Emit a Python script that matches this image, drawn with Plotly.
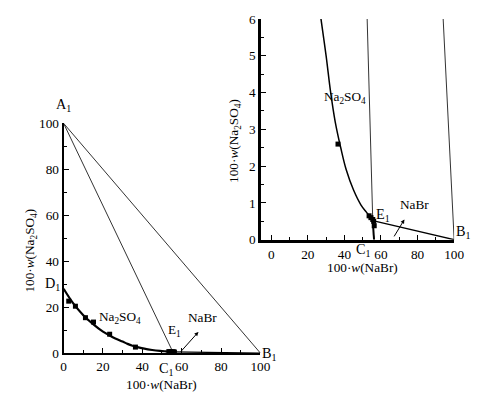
import plotly.graph_objects as go

# ---------------- data ----------------
# solubility curve D1 -> E1 (Na2SO4 crystallization field boundary)
curve_x = [0, 5, 10, 15, 20, 25, 27.2, 30, 32.5, 35, 38, 41, 45, 49, 52, 54, 55.5]
curve_y = [28, 21.5, 16.5, 12.6, 9.3, 6.9, 6.0, 5.0, 4.0, 3.2, 2.5, 1.9, 1.35, 0.95, 0.75, 0.63, 0.55]
# experimental points
exp_x = [2.6, 6.0, 11.1, 15.2, 23.4, 36.5, 53.5, 54.5, 55.5, 56.0, 56.3]
exp_y = [22.6, 20.4, 15.4, 13.5, 8.2, 2.6, 0.65, 0.6, 0.55, 0.5, 0.38]
# invariant / pure-salt points
A1 = (0, 100)
B1 = (100, 0)
E1 = (55.5, 0.52)
C1 = (56.2, 0)
x_ticks = [0, 20, 40, 60, 80, 100]
y_ticks_left = [0, 20, 40, 60, 80, 100]
y_ticks_right = [0, 1, 2, 3, 4, 5, 6]

FONT = "Liberation Serif, Times New Roman, serif"
RW, RH = 477, 396            # target picture size
W, H = 487, 405              # page size that is captured into the picture
K = W / RW                   # size factor
fig = go.Figure()

def fx(px):
    return px / RW

def fy(py):
    return 1 - ((py - 7) / 0.96) / H

def add_diagram(xa, ya, curve_w, line_w):
    fig.add_trace(go.Scatter(x=[A1[0], B1[0]], y=[A1[1], B1[1]], mode="lines",
                             line=dict(color="#333", width=line_w), xaxis=xa, yaxis=ya, showlegend=False))
    fig.add_trace(go.Scatter(x=[A1[0], E1[0]], y=[A1[1], E1[1]], mode="lines",
                             line=dict(color="#333", width=line_w), xaxis=xa, yaxis=ya, showlegend=False))
    fig.add_trace(go.Scatter(x=[E1[0], B1[0]], y=[E1[1], B1[1]], mode="lines",
                             line=dict(color="black", width=1.3), xaxis=xa, yaxis=ya, showlegend=False))
    fig.add_trace(go.Scatter(x=[E1[0], C1[0]], y=[E1[1], C1[1]], mode="lines",
                             line=dict(color="black", width=2), xaxis=xa, yaxis=ya, showlegend=False))
    fig.add_trace(go.Scatter(x=curve_x, y=curve_y, mode="lines", line_shape="spline",
                             line=dict(color="black", width=curve_w), xaxis=xa, yaxis=ya, showlegend=False))
    fig.add_trace(go.Scatter(x=exp_x, y=exp_y, mode="markers",
                             marker=dict(symbol="square", size=5, color="black"),
                             xaxis=xa, yaxis=ya, showlegend=False, cliponaxis=False))

add_diagram("x", "y", 2.2, 1)
add_diagram("x2", "y2", 1.5, 1)

FS = 13 * K
axis_common = dict(showgrid=False, zeroline=False, showline=True, linecolor="black",
                   ticks="inside", tickcolor="black", ticklen=5,
                   tickfont=dict(family=FONT, size=FS, color="black"), mirror=False)

fig.update_layout(
    width=W, height=H, margin=dict(l=0, r=0, t=0, b=0),
    paper_bgcolor="white", plot_bgcolor="white", hovermode=False,
    xaxis=dict(domain=[fx(61), fx(259)], range=[0, 100], anchor="y",
               tickvals=x_ticks, linewidth=2, minor=dict(dtick=10, ticks="inside", ticklen=3, tickcolor="black"),
               **axis_common),
    yaxis=dict(domain=[fy(352), fy(123)], range=[0, 100], anchor="x",
               tickvals=y_ticks_left, linewidth=2, minor=dict(dtick=10, ticks="inside", ticklen=3, tickcolor="black"),
               **axis_common),
    xaxis2=dict(domain=[fx(260), fx(454)], range=[-5.4, 100], anchor="y2",
                tickvals=x_ticks, linewidth=3, minor=dict(dtick=10, ticks="inside", ticklen=3, tickcolor="black"),
                **axis_common),
    yaxis2=dict(domain=[fy(239), fy(19)], range=[0, 6], anchor="x2",
                tickvals=y_ticks_right, linewidth=3, minor=dict(dtick=0.5, ticks="inside", ticklen=3, tickcolor="black"),
                **axis_common),
)

def ann(text, px, py, size=13, angle=0):
    fig.add_annotation(text=text, x=fx(px), y=fy(py), xref="paper", yref="paper", showarrow=False,
                       font=dict(family=FONT, size=size * K, color="black"), textangle=angle,
                       xanchor="center", yanchor="middle")

# axis titles
xt = "100·<i>w</i>(NaBr)"
yt = "100·<i>w</i>(Na<sub>2</sub>SO<sub>4</sub>)"
ann(xt, 160, 383)
ann(yt, 28, 250, angle=-90)
ann(xt, 362, 267)
ann(yt, 233, 141, angle=-90)

# point labels, left
ann("A<sub>1</sub>", 61, 105, size=14)
ann("D<sub>1</sub>", 50, 283, size=14)
ann("Na<sub>2</sub>SO<sub>4</sub>", 118, 317)
ann("E<sub>1</sub>", 173, 330)
ann("NaBr", 201, 317)
ann("B<sub>1</sub>", 268, 353, size=14)
ann("C<sub>1</sub>", 165, 368, size=14)
fig.add_annotation(x=68.5, y=9.2, ax=58.9, ay=0, xref="x", yref="y", axref="x", ayref="y",
                   showarrow=True, arrowhead=2, arrowsize=0.8, arrowwidth=1, arrowcolor="black", text="")

# point labels, right
ann("Na<sub>2</sub>SO<sub>4</sub>", 344, 97)
ann("E<sub>1</sub>", 382, 214, size=14)
ann("NaBr", 414, 204)
ann("B<sub>1</sub>", 463, 231, size=14)
ann("C<sub>1</sub>", 363, 249, size=14)
fig.add_annotation(x=72.8, y=0.55, ax=66.7, ay=0.05, xref="x2", yref="y2", axref="x2", ayref="y2",
                   showarrow=True, arrowhead=2, arrowsize=0.8, arrowwidth=1, arrowcolor="black", text="")

fig.write_html("out.html", config={"displayModeBar": False, "staticPlot": True},
               post_script="document.body.style.margin='0px';document.body.style.overflow='hidden';")
